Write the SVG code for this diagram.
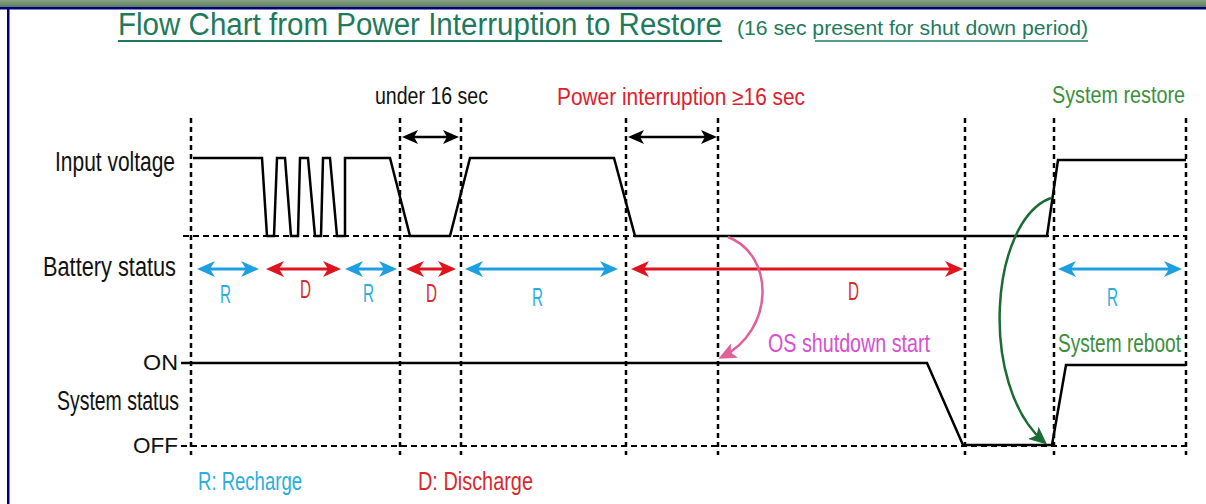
<svg xmlns="http://www.w3.org/2000/svg" width="1206" height="504" viewBox="0 0 1206 504">
<defs>
<linearGradient id="bar" x1="0" y1="0" x2="0" y2="1">
<stop offset="0" stop-color="#86a384"/>
<stop offset="1" stop-color="#5f7d5d"/>
</linearGradient>
<marker id="mBlue" markerUnits="userSpaceOnUse" viewBox="0 0 18 18" markerWidth="18" markerHeight="18" refX="14" refY="9" orient="auto-start-reverse"><path d="M0,1 L18,9 L0,17 L5,9 Z" fill="#1ea0e0"/></marker>
<marker id="mRed" markerUnits="userSpaceOnUse" viewBox="0 0 18 18" markerWidth="18" markerHeight="18" refX="14" refY="9" orient="auto-start-reverse"><path d="M0,1 L18,9 L0,17 L5,9 Z" fill="#e0141e"/></marker>
<marker id="mBlack" markerUnits="userSpaceOnUse" viewBox="0 0 16 14" markerWidth="16" markerHeight="14" refX="12" refY="7" orient="auto-start-reverse"><path d="M0,0 L16,7 L0,14 L4,7 Z" fill="#000"/></marker>
<marker id="mPink" markerUnits="userSpaceOnUse" viewBox="0 0 18 16" markerWidth="18" markerHeight="16" refX="14" refY="8" orient="auto"><path d="M0,0 L18,8 L0,16 L4,8 Z" fill="#e0609a"/></marker>
<marker id="mGreen" markerUnits="userSpaceOnUse" viewBox="0 0 18 16" markerWidth="18" markerHeight="16" refX="14" refY="8" orient="auto"><path d="M0,0 L18,8 L0,16 L4,8 Z" fill="#1b6b34"/></marker>
</defs>
<style>
text{font-family:"Liberation Sans",Arial,sans-serif;}
.lbl{font-size:27px;fill:#111;}
.top{font-size:23px;}
.wave{fill:none;stroke:#000;stroke-width:2.5;stroke-linejoin:miter;}
.vdash{stroke:#000;stroke-width:2.5;stroke-dasharray:5 4;}
.hdash{stroke:#000;stroke-width:2;stroke-dasharray:6 4;}
.ab{stroke:#1ea0e0;stroke-width:3;marker-start:url(#mBlue);marker-end:url(#mBlue);}
.ar{stroke:#e0141e;stroke-width:3;marker-start:url(#mRed);marker-end:url(#mRed);}
.ak{stroke:#000;stroke-width:2.5;marker-start:url(#mBlack);marker-end:url(#mBlack);}
.rl{font-size:26px;fill:#2aaee0;}
.dl{font-size:26px;fill:#d92a2a;}
</style>
<rect x="0" y="0" width="1206" height="504" fill="#fff"/>
<rect x="0" y="0" width="1206" height="7" fill="url(#bar)"/>
<rect x="0" y="7" width="1206" height="2.5" fill="#000080"/>
<rect x="7" y="7" width="2.5" height="497" fill="#000080"/>

<g id="title">
<text x="118" y="35" font-size="31" fill="#1f7a5c" textLength="604" lengthAdjust="spacingAndGlyphs">Flow Chart from Power Interruption to Restore</text>
<line x1="118" y1="41" x2="722" y2="41" stroke="#1f7a5c" stroke-width="2"/>
<text x="737" y="35" font-size="20" fill="#1f7a5c" textLength="351" lengthAdjust="spacingAndGlyphs">(16 sec present for shut down period)</text>
<line x1="815" y1="41" x2="1088" y2="41" stroke="#1f7a5c" stroke-width="1.5"/>
</g>

<g id="grid">
<line class="vdash" x1="191" y1="118" x2="191" y2="455"/>
<line class="vdash" x1="400" y1="118" x2="400" y2="455"/>
<line class="vdash" x1="461" y1="118" x2="461" y2="455"/>
<line class="vdash" x1="626" y1="118" x2="626" y2="455"/>
<line class="vdash" x1="718" y1="118" x2="718" y2="455"/>
<line class="vdash" x1="965" y1="118" x2="965" y2="455"/>
<line class="vdash" x1="1054" y1="118" x2="1054" y2="455"/>
<line class="vdash" x1="1186" y1="118" x2="1186" y2="455"/>
<line class="hdash" x1="183" y1="236" x2="1186" y2="236"/>
<line class="hdash" x1="181" y1="446" x2="1186" y2="446"/>
</g>

<g id="labels">
<text class="lbl" x="55" y="171" textLength="120" lengthAdjust="spacingAndGlyphs">Input voltage</text>
<text class="lbl" x="43" y="276" textLength="133" lengthAdjust="spacingAndGlyphs">Battery status</text>
<text class="lbl" x="57" y="410" textLength="122" lengthAdjust="spacingAndGlyphs">System status</text>
<text x="143" y="370" font-size="22" fill="#111" textLength="35" lengthAdjust="spacingAndGlyphs">ON</text>
<text x="133" y="453" font-size="22" fill="#111" textLength="45" lengthAdjust="spacingAndGlyphs">OFF</text>
<text class="top" x="375" y="104" fill="#111" textLength="113" lengthAdjust="spacingAndGlyphs">under 16 sec</text>
<text class="top" x="557" y="105" fill="#e0202a" textLength="248" lengthAdjust="spacingAndGlyphs">Power interruption ≥16 sec</text>
<text class="top" x="1052" y="103" fill="#3d8f3d" textLength="133" lengthAdjust="spacingAndGlyphs">System restore</text>
<text x="198" y="490" font-size="26" fill="#2aaee0" textLength="104" lengthAdjust="spacingAndGlyphs">R: Recharge</text>
<text x="418" y="490" font-size="26" fill="#d92a2a" textLength="115" lengthAdjust="spacingAndGlyphs">D: Discharge</text>
<text x="768" y="352" font-size="25" fill="#d84fd0" textLength="162" lengthAdjust="spacingAndGlyphs">OS shutdown start</text>
<text x="1058" y="352" font-size="25" fill="#3d8f3d" textLength="123" lengthAdjust="spacingAndGlyphs">System reboot</text>
</g>

<g id="input-voltage">
<polyline class="wave" points="193,158 262,158 267,236 274,236 277,158 285,158 291,236 298,236 300,158 308,158 315,236 321,236 323,158 330,158 337,236 345,236 345,158 390,158 410,236 450,236 470,158 614,158 635,236 1047,236 1058,160 1186,160"/>
</g>

<g id="system-status">
<polyline class="wave" points="181,363 927,363 963,445 1052,445 1066,365 1186,365"/>
</g>

<g id="battery-status">
<line class="ab" x1="201" y1="269" x2="255" y2="269"/>
<line class="ar" x1="270" y1="269" x2="337" y2="269"/>
<line class="ab" x1="349" y1="269" x2="393" y2="269"/>
<line class="ar" x1="410" y1="269" x2="452" y2="269"/>
<line class="ab" x1="469" y1="269" x2="614" y2="269"/>
<line class="ar" x1="635" y1="269" x2="959" y2="269"/>
<line class="ab" x1="1062" y1="269" x2="1178" y2="269"/>
<text class="rl" x="220" y="303" textLength="11" lengthAdjust="spacingAndGlyphs">R</text>
<text class="dl" x="300" y="298" textLength="11" lengthAdjust="spacingAndGlyphs">D</text>
<text class="rl" x="363" y="302" textLength="11" lengthAdjust="spacingAndGlyphs">R</text>
<text class="dl" x="426" y="302" textLength="11" lengthAdjust="spacingAndGlyphs">D</text>
<text class="rl" x="532" y="306" textLength="11" lengthAdjust="spacingAndGlyphs">R</text>
<text class="dl" x="848" y="300" textLength="11" lengthAdjust="spacingAndGlyphs">D</text>
<text class="rl" x="1107" y="306" textLength="11" lengthAdjust="spacingAndGlyphs">R</text>
</g>

<g id="connectors">
<line class="ak" x1="406" y1="137" x2="455" y2="137"/>
<line class="ak" x1="632" y1="137" x2="713" y2="137"/>
<path d="M728,237 C775,255 775,330 722,357" fill="none" stroke="#e0609a" stroke-width="2.5" marker-end="url(#mPink)"/>
<path d="M1051,198 C990,220 978,385 1044,442" fill="none" stroke="#1b6b34" stroke-width="2.5" marker-end="url(#mGreen)"/>
</g>
</svg>
